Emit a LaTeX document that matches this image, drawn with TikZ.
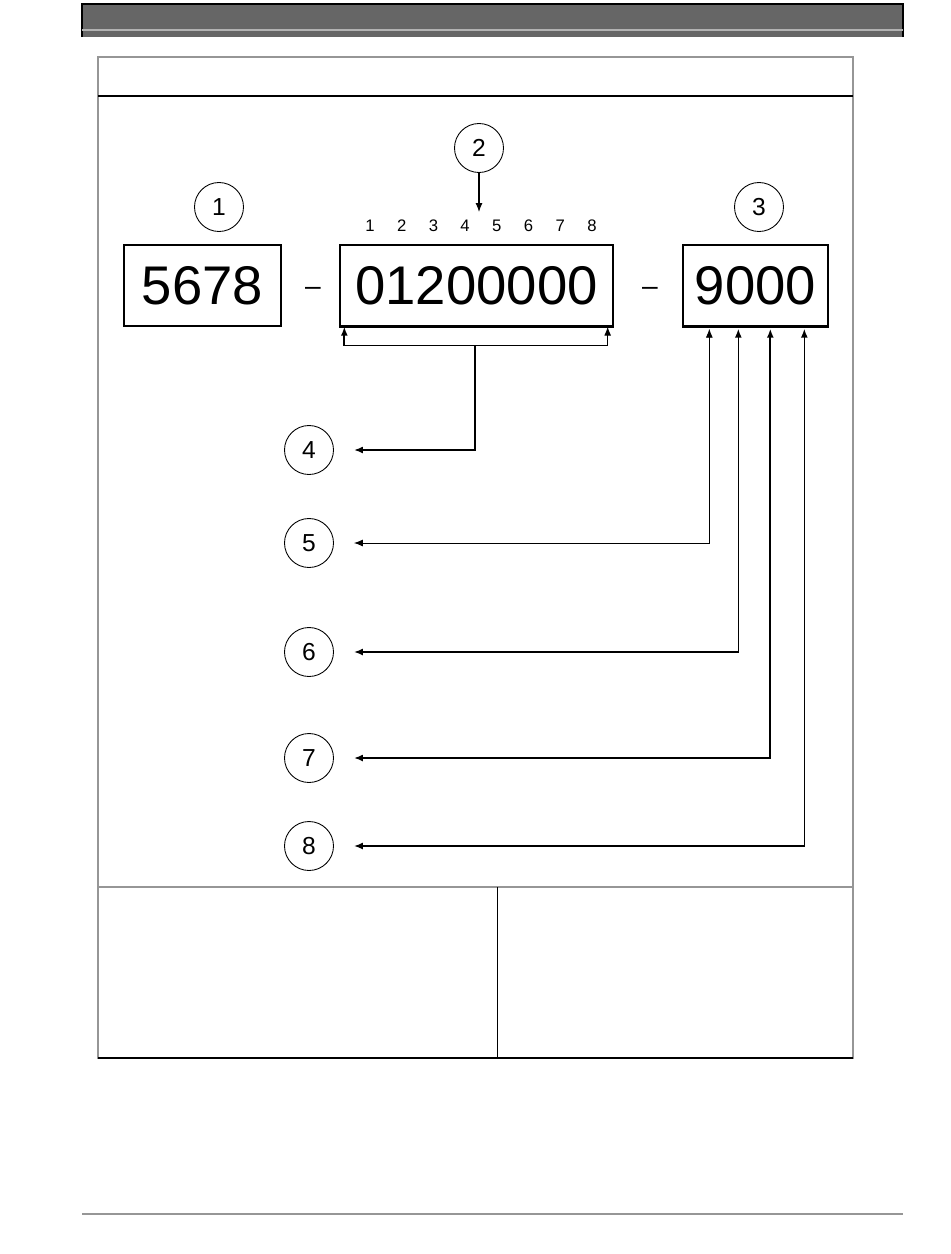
\documentclass[tikz,border=0pt]{standalone}
\usepackage{fontspec}
\setmainfont{Liberation Sans}
\usetikzlibrary{arrows.meta, calc}
\definecolor{bargray}{RGB}{102,102,102}
\definecolor{rulegray}{RGB}{150,150,150}

\begin{document}
\begin{tikzpicture}[x=0.02cm, y=-0.02cm,
  numbox/.style={draw, line width=0.8pt, minimum height=1.62cm, inner sep=0pt,
                 font=\fontsize{31}{36}\selectfont},
  callout/.style={draw, circle, line width=0.5pt, minimum size=0.98cm, inner sep=0pt,
                  font=\fontsize{14}{16}\selectfont},
  digitlbl/.style={font=\fontsize{9.5}{11}\selectfont},
  arr/.style={-{Latex[length=1.8mm, width=1.4mm]}, line width=0.6pt},
  arrs/.style={{Latex[length=1.8mm, width=1.4mm]}-{Latex[length=1.8mm, width=1.4mm]},
               line width=0.6pt, shorten <=0.4cm}
]
\useasboundingbox (0,0) rectangle (950,1254);
% page frame
\fill[bargray] (82,4) rectangle (903,37);
\draw[line width=0.6pt] (82,37) -- (82,4) -- (903,4) -- (903,37);
\draw[black!30, line width=0.8pt] (82,30) -- (903,30);
\draw[rulegray, line width=0.8pt] (98,57) rectangle (853,1058);
\draw[line width=1pt] (98,96) -- (853,96);
\draw[rulegray, line width=1.5pt] (98,887) -- (853,887);
\draw[line width=0.5pt] (497,887) -- (497,1058);
\draw[line width=1pt] (98,1058) -- (853,1058);
\draw[rulegray, line width=0.8pt] (82,1214) -- (903,1214);

% number blocks
\node[numbox, minimum width=3.14cm] (yr)  at (202.5,285.5) {5678};
\node[numbox, minimum width=5.46cm] (ser) at (476.5,285.5) {01200000};
\node[numbox, minimum width=2.9cm]  (suf) at (755.5,285.5) {9000};
\node[font=\fontsize{16}{18}\selectfont] (dash1) at (313,291) {–};
\node[font=\fontsize{16}{18}\selectfont] (dash2) at (650,291) {–};
\draw[line width=1.4pt] (ser.south west) -- (ser.south east);
\draw[line width=1.4pt] (suf.south west) -- (suf.south east);

% digit positions
\foreach \d in {1,...,8}
  \node[digitlbl] (p\d) at ({370+31.7*(\d-1)}, 226) {\d};

% callouts
\node[callout] (c1) at (219,207) {1};
\node[callout] (c2) at (479,148) {2};
\node[callout] (c3) at (759,207) {3};
\foreach \n/\y in {4/450, 5/543, 6/652, 7/758, 8/846}
  \node[callout] (c\n) at (309,\y) {\n};

\coordinate (t2) at (479,212);
\draw[arr] (c2) -- (t2);

% serial bracket
\coordinate (bl) at ($(ser.south west)+(5,19)$);
\coordinate (br) at ($(ser.south east)+(-6,19)$);
\coordinate (bm) at ($(ser.south)+(-1.5,19)$);
\draw[arr, line width=1pt] (bl) -- (bl |- ser.south);
\draw[arr] (br) -- (br |- ser.south);
\draw[line width=0.6pt] (bl) -- (br);
\draw[arr, line width=1pt, shorten >=0.4cm] (bm) |- (c4);

% suffix digits
\foreach \n/\dx in {5/27, 6/56, 7/88, 8/122}
  \coordinate (f\n) at ($(suf.south west)+(\dx,2)$);
\draw[arrs, line width=0.5pt] (c5) -| (f5);
\draw[arrs, line width=0.9pt] (c6) -| (f6);
\draw[arrs, line width=1pt]   (c7) -| (f7);
\draw[arrs, line width=0.9pt] (c8) -| (f8);
\end{tikzpicture}
\end{document}
